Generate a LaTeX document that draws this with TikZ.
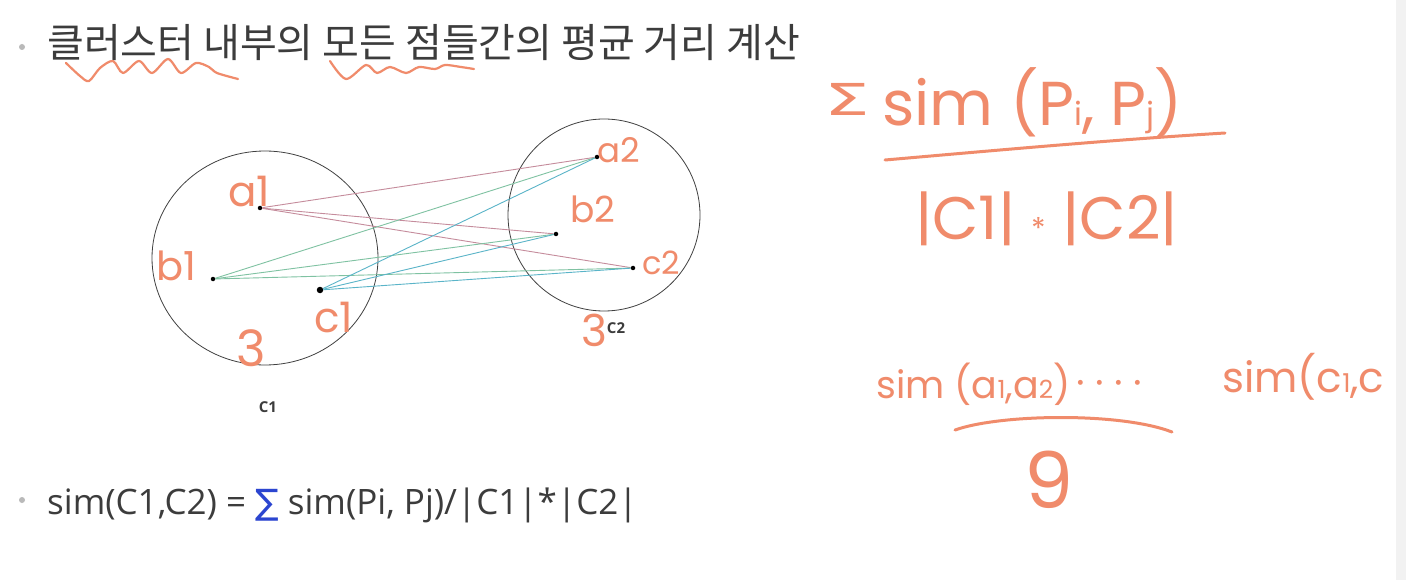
\documentclass[tikz,border=0pt]{standalone}
\usepackage{fontspec}
\usetikzlibrary{shapes.geometric}
\newfontfamily\kr{Noto Sans CJK KR}
\newfontfamily\hand{Poppins}
\newfontfamily\body{Open Sans}
\newfontfamily\dv{DejaVu Sans}
\definecolor{ink}{HTML}{F08B6B}
\definecolor{txt}{HTML}{3C3C3C}
\definecolor{lnA}{HTML}{C58C9C}
\definecolor{lnB}{HTML}{7FC2A2}
\definecolor{lnC}{HTML}{5AB4C8}
\definecolor{sigblue}{HTML}{2B45D0}
\definecolor{band}{HTML}{F2F2F2}
\newcommand{\fs}[1]{\fontsize{#1}{#1}\selectfont}
\begin{document}
\begin{tikzpicture}[x=1pt,y=-1pt,
  dotpt/.style={circle,fill=black,inner sep=0pt,minimum size=4.5pt},
  hw/.style={text=ink,inner sep=0pt,anchor=base west},
  stroke/.style={ink,line width=3pt,line cap=round,line join=round},
  bulletdot/.style={circle,fill=gray!55,inner sep=0pt,minimum size=6pt},
  linkA/.style={lnA,line width=0.9pt},
  linkB/.style={lnB,line width=0.9pt},
  linkC/.style={lnC,line width=0.9pt},
  clus/.style={draw=black!75,line width=0.8pt}]
\useasboundingbox (0,0) rectangle (1406,580);
\fill[white] (0,0) rectangle (1406,580);

% title line
\node[bulletdot] (b1dot) at (22,47) {};
\node[anchor=base west,inner sep=0pt,text=txt,font=\kr\fs{40}] (title) at (47,58) {클러스터 내부의 모든 점들간의 평균 거리 계산};
\draw[stroke,line width=2.2pt] plot[smooth] coordinates {(66,63) (80,76) (89,81) (100,68) (113,61) (123,73) (139,61) (152,73) (168,59) (181,73) (196,63) (209,67) (217,73) (238,79)};
\draw[stroke,line width=2.2pt] plot[smooth] coordinates {(330,61) (346,79) (366,65) (377,73) (390,67) (406,73) (419,67) (435,69) (445,65) (461,67) (474,69)};

% clusters
\node[clus,ellipse,minimum width=226pt,minimum height=214pt,inner sep=0pt] (C1) at (265,258) {};
\node[clus,circle,minimum size=192pt,inner sep=0pt] (C2) at (604,215) {};
\node[dotpt] (a1) at (260,208) {};
\node[dotpt] (b1) at (213,279) {};
\node[dotpt,minimum size=6.5pt] (c1) at (320,290) {};
\node[dotpt] (a2) at (597,157) {};
\node[dotpt] (b2) at (556,234) {};
\node[dotpt] (c2) at (633,268) {};
\draw[linkA] (a1) -- (a2);
\draw[linkA] (a1) -- (b2);
\draw[linkA] (a1) -- (c2);
\draw[linkB] (b1) -- (a2);
\draw[linkB] (b1) -- (b2);
\draw[linkB] (b1) -- (c2);
\draw[linkC] (c1) -- (a2);
\draw[linkC] (c1) -- (b2);
\draw[linkC] (c1) -- (c2);
\node[anchor=center,inner sep=0pt,text=txt,font=\body\bfseries\fs{15}] (C1lab) at (268,407) {C1};
\node[anchor=center,inner sep=0pt,text=txt,font=\body\bfseries\fs{15}] (C2lab) at (616,328) {C2};

% handwritten labels in the diagram
\node[hw,font=\hand\fs{42}] (la1) at (228,207) {a1};
\node[hw,font=\hand\fs{40}] (lb1) at (156,280) {b1};
\node[hw,font=\hand\fs{42}] (lc1) at (314,332) {c1};
\node[hw,font=\hand\fs{50}] (l3a) at (236,366) {3};
\node[hw,font=\hand\fs{34}] (la2) at (597,163) {a2};
\node[hw,font=\hand\fs{36}] (lb2) at (570,223) {b2};
\node[hw,font=\hand\fs{32}] (lc2) at (642,274) {c2};
\node[hw,font=\hand\fs{44}] (l3b) at (581,346) {3};

% handwritten formula, top right
\node[hw,font=\dv\fs{40}] (sig) at (824,116) {\scalebox{1.8}[1.1]{Σ}};
\node[hw,font=\hand\fs{62}] (num) at (882,126) {sim (P{\fs{32}i}, P{\fs{32}j})};
\draw[stroke] (885,160) .. controls (1000,150) and (1110,140) .. (1225,133);
\node[hw,font=\hand\fs{60}] (den) at (915,240) {|C1| {\fs{30}*} |C2|};

% handwritten example, lower right
\node[hw,font=\hand\fs{38}] (ex1) at (876,398) {sim (a{\fs{25}1},a{\fs{25}2})};
\node[hw,font=\hand\fs{40}] (dots) at (1076,396) {· · · ·};
\node[hw,font=\hand\fs{42}] (ex2) at (1222,392) {sim(c{\fs{26}1},c};
\draw[stroke] (955,430) .. controls (1000,414) and (1120,412) .. (1172,432);
\node[hw,font=\hand\fs{78}] (nine) at (1024,508) {9};

% bottom formula
\node[bulletdot] (b2dot) at (22,500) {};
\node[anchor=base west,inner sep=0pt,text=txt,font=\body\fs{35}] (form) at (47,514) {sim(C1,C2) = {\dv\color{sigblue}∑} sim(Pi, Pj)/|C1|*|C2|};

% right band
\fill[band] (1396,0) rectangle (1406,580);
\end{tikzpicture}
\end{document}
